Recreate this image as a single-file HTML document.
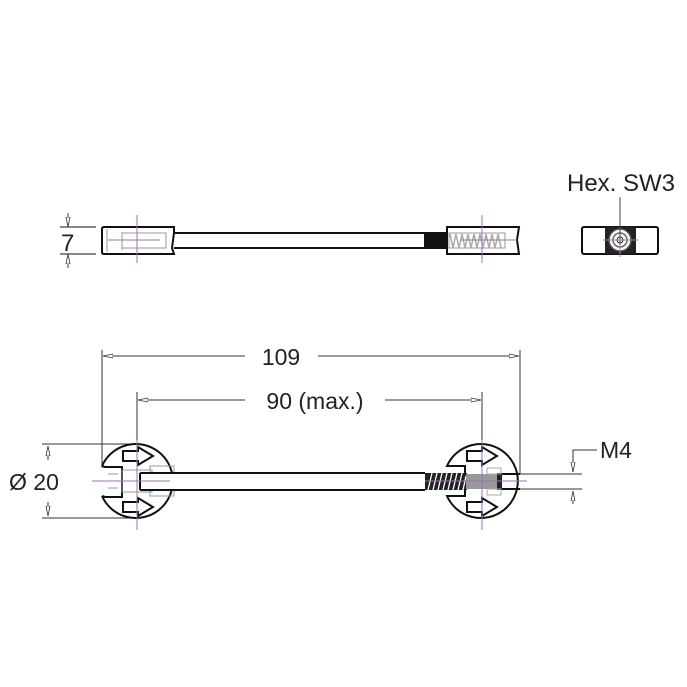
<!DOCTYPE html>
<html><head><meta charset="utf-8"><style>
html,body{margin:0;padding:0;background:#fff}
svg{display:block}
text{font-family:"Liberation Sans",Arial,sans-serif;fill:#222}
</style></head><body>
<svg width="687" height="687" viewBox="0 0 687 687" xmlns="http://www.w3.org/2000/svg">
<defs>
<marker id="a" markerWidth="11" markerHeight="6" refX="10" refY="3" orient="auto-start-reverse" markerUnits="userSpaceOnUse"><path d="M0,1 L10,3 L0,5 Z" fill="#fff" stroke="#333" stroke-width="0.8"/></marker>
</defs>
<g fill="none" stroke="#111">
<!-- TOP VIEW -->
<line x1="60" y1="227" x2="96" y2="227" stroke-width="1"/>
<line x1="60" y1="254" x2="96" y2="254" stroke-width="1"/>
<line x1="68" y1="213" x2="68" y2="227" stroke-width="0.8" marker-end="url(#a)"/>
<line x1="68" y1="268" x2="68" y2="254" stroke-width="0.8" marker-end="url(#a)"/>
<path d="M174,227 H104 Q102,227 102,229 V252 Q102,254 104,254 H174 L172,248 L174,233 Z" stroke-width="2"/>
<line x1="174" y1="233" x2="425" y2="233" stroke-width="2"/>
<line x1="174" y1="248" x2="425" y2="248" stroke-width="2"/>
<rect x="424" y="232" width="24" height="17" fill="#111" stroke="none"/>
<path d="M447,227 H519 L517,240 L519,254 H447 Z" stroke-width="2"/>
<g stroke="#999" stroke-width="1">
<line x1="107" y1="229" x2="107" y2="252"/><line x1="122" y1="232" x2="122" y2="250"/>
<rect x="122" y="233" width="44" height="15"/>
<rect x="449" y="233" width="56" height="15"/>
</g>
<g stroke="#aaa" stroke-width="1.5">
<path d="M450,234 l3,14 l3,-14 l3,14 l3,-14 l3,14 l3,-14 l3,14 l3,-14 l3,14 l3,-14 l3,14 l3,-14 l3,14 l3,-14 l3,14 l3,-14 l3,14"/>
</g>
<g stroke="#a070b0" stroke-width="1">
<line x1="137" y1="215" x2="137" y2="263"/><line x1="108" y1="240" x2="160" y2="240"/>
<line x1="482" y1="215" x2="482" y2="263"/><line x1="460" y1="240" x2="517" y2="240"/>
</g>
<!-- END VIEW -->
<rect x="582" y="227" width="76" height="27" rx="2" stroke-width="2"/>
<rect x="605" y="227" width="31" height="27" fill="#222" stroke="none"/>
<circle cx="620" cy="240" r="11" fill="#fff" stroke="#555" stroke-width="1.5"/>
<circle cx="620" cy="240" r="7" fill="#fff" stroke="#666" stroke-width="1.5"/>
<circle cx="620" cy="240" r="3" fill="#fff" stroke="#222" stroke-width="1"/>
<line x1="620" y1="197" x2="620" y2="244" stroke="#444" stroke-width="1"/>
<g stroke="#a070b0" stroke-width="1"><line x1="620" y1="244" x2="620" y2="257"/><line x1="603" y1="240" x2="638" y2="240"/></g>
<!-- DIMENSIONS -->
<g stroke="#333" stroke-width="1">
<line x1="102" y1="350" x2="102" y2="468"/>
<line x1="520" y1="350" x2="520" y2="474"/>
<line x1="137" y1="392" x2="137" y2="444"/>
<line x1="482" y1="392" x2="482" y2="444"/>
<line x1="103" y1="356" x2="245" y2="356" marker-start="url(#a)"/>
<line x1="318" y1="356" x2="519" y2="356" marker-end="url(#a)"/>
<line x1="138" y1="400" x2="245" y2="400" marker-start="url(#a)"/>
<line x1="385" y1="400" x2="481" y2="400" marker-end="url(#a)"/>
<line x1="42" y1="444" x2="137" y2="444"/>
<line x1="42" y1="518" x2="137" y2="518"/>
<line x1="48" y1="460" x2="48" y2="446" marker-end="url(#a)"/>
<line x1="48" y1="502" x2="48" y2="516" marker-end="url(#a)"/>
<line x1="520" y1="474" x2="582" y2="474"/>
<line x1="520" y1="489" x2="582" y2="489"/>
<polyline points="597,450 573,450 573,472" marker-end="url(#a)"/>
<line x1="573" y1="504" x2="573" y2="491" marker-end="url(#a)"/>
</g>
<!-- BOTTOM VIEW -->
<path d="M102,466 A37,37 0 1 1 102,496" stroke-width="2" fill="#fff"/>
<path d="M102,466 L105,467 H122 V497 H105 L102,496" stroke-width="2"/>
<path d="M123,451 H138 V447 L153,456 L138,465 V461 H123 Z" stroke-width="2"/>
<path d="M123,502 H138 V498 L153,507 L138,516 V512 H123 Z" stroke-width="2"/>
<g stroke="#999" stroke-width="1"><rect x="122" y="470" width="30" height="22"/><rect x="150" y="466" width="24" height="30"/><line x1="108" y1="474" x2="118" y2="474"/><line x1="108" y1="481" x2="118" y2="481"/><line x1="108" y1="488" x2="118" y2="488"/></g>
<rect x="140" y="473" width="40" height="17" fill="#fff" stroke="none"/>
<path d="M140,473 H425 M140,490 H425 M140,473 V490" stroke-width="2"/>
<path d="M447,466 A37,37 0 1 1 447,496 L450,496 H465 V466 H450 Z" stroke-width="2" fill="#fff"/>
<path d="M467,451 H482 V447 L497,456 L482,465 V461 H467 Z" stroke-width="2"/>
<path d="M467,502 H482 V498 L497,507 L482,516 V512 H467 Z" stroke-width="2"/>
<rect x="425" y="473" width="42" height="17" fill="#222" stroke="none"/>
<g stroke="#fff" stroke-width="1.3"><path d="M428,490 l4,-17 M433,490 l4,-17 M438,490 l4,-17 M443,490 l4,-17 M448,490 l4,-17 M453,490 l4,-17 M458,490 l4,-17 M463,490 l3,-14"/></g>
<rect x="466" y="474" width="32" height="15" fill="#999" stroke="none"/>
<rect x="497" y="473" width="5" height="17" fill="#222" stroke="none"/>
<path d="M502,474 H520 M502,489 H520" stroke-width="2"/>
<g stroke="#aaa" stroke-width="1"><rect x="487" y="468" width="14" height="6"/><rect x="487" y="489" width="14" height="6"/></g>
<g stroke="#a070b0" stroke-width="1">
<line x1="137" y1="440" x2="137" y2="530"/><line x1="92" y1="481" x2="170" y2="481"/>
<line x1="482" y1="440" x2="482" y2="530"/><line x1="425" y1="481" x2="527" y2="481"/>
</g>
</g>
<text x="61" y="251" font-size="24">7</text>
<text x="567" y="191" font-size="24">Hex. SW3</text>
<text x="281" y="365" font-size="23" text-anchor="middle">109</text>
<text x="315" y="409" font-size="23" text-anchor="middle">90 (max.)</text>
<text x="9" y="490" font-size="23">Ø 20</text>
<text x="600" y="458" font-size="23">M4</text>
</svg>
</body></html>
